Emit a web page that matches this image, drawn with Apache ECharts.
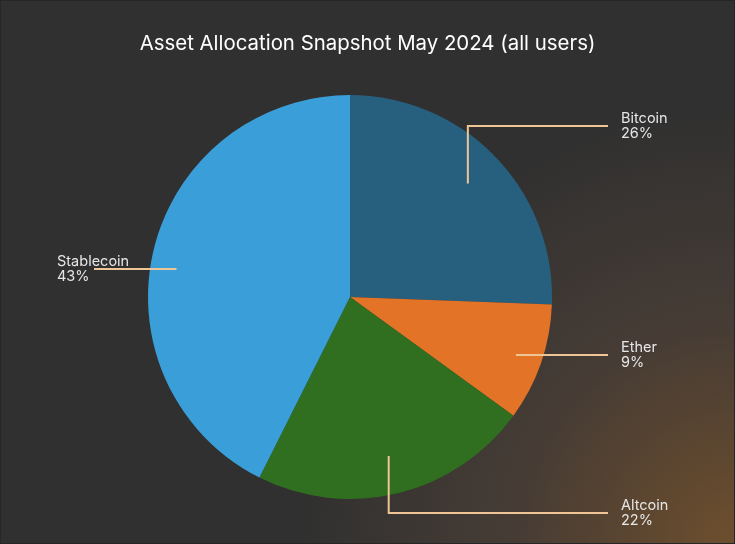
<!DOCTYPE html>
<html>
<head>
<meta charset="utf-8">
<title>Asset Allocation Snapshot May 2024</title>
<script src="https://cdn.jsdelivr.net/npm/echarts@6/dist/echarts.min.js"></script>
<style>
  html, body { margin: 0; padding: 0; background: #1f1f1f; }
  #chart { width: 733px; height: 542px; border: 1px solid #262626; }
</style>
</head>
<body>
<div id="chart"></div>
<script>
const categories = ['Bitcoin', 'Ether', 'Altcoin', 'Stablecoin'];
const shares = [25.6, 9.4, 22.4, 42.6];
const colors = ['#27607f', '#e37427', '#2f6f1f', '#3a9fd8'];

// label placement: where the text sits and how the leader line bends
const CX = 349, CY = 296, R = 202;
const labelSpots = [
  { x: 620, y: 125, end: 607, bend: 'vertical' },
  { x: 620, y: 354, end: 607, bend: 'horizontal' },
  { x: 620, y: 512, end: 607, bend: 'vertical' },
  { x: 56, y: 268, end: 93, bend: 'horizontal' }
];

const total = shares.reduce((a, b) => a + b, 0);
const midAngles = [];
let acc = 0;
shares.forEach((v) => {
  midAngles.push(((acc + v / 2) / total) * Math.PI * 2); // clockwise from top
  acc += v;
});

const pieBase = {
  type: 'pie',
  center: [CX, CY],
  radius: R,
  startAngle: 90,
  clockwise: true,
  silent: true,
  percentPrecision: 0
};

const chart = echarts.init(document.getElementById('chart'));

chart.setOption({
  backgroundColor: {
    type: 'radial',
    x: 733, y: 542, r: 440,
    global: true,
    colorStops: [
      { offset: 0, color: '#6d4f2d' },
      { offset: 0.22, color: '#5c4630' },
      { offset: 0.5, color: '#463c35' },
      { offset: 1, color: '#303030' }
    ]
  },
  textStyle: { fontFamily: 'Inter' },
  title: {
    text: 'Asset Allocation Snapshot May 2024 (all users)',
    left: 'center',
    top: 28,
    textStyle: { color: '#ffffff', fontSize: 20.4, fontWeight: 'normal', fontFamily: 'Inter' }
  },
  series: [
    // the slices
    {
      ...pieBase,
      z: 2,
      data: categories.map((name, i) => ({
        name,
        value: shares[i],
        itemStyle: { color: colors[i] }
      })),
      label: { show: false },
      labelLine: { show: false }
    },
    // same slices, transparent, only to carry labels and leader lines above the pie
    {
      ...pieBase,
      z: 5,
      data: categories.map((name, i) => ({ name, value: shares[i] })),
      itemStyle: { color: 'rgba(0,0,0,0)' },
      label: {
        show: true,
        formatter: '{b}\n{d}%',
        color: '#e6e6e6',
        fontSize: 14.5,
        lineHeight: 15,
        fontFamily: 'Inter'
      },
      labelLine: {
        show: true,
        showAbove: true,
        lineStyle: { color: '#efc596', width: 2 }
      },
      labelLayout: function (params) {
        const i = params.dataIndex;
        const spot = labelSpots[i];
        const a = midAngles[i];
        let start;
        if (spot.bend === 'vertical') {
          const k = 0.81 * R;
          start = [CX + k * Math.sin(a), CY - k * Math.cos(a)];
        } else {
          const k = 0.87 * R;
          const dy = spot.y - CY;
          const dx = Math.sqrt(Math.max(k * k - dy * dy, 0));
          start = [CX + (Math.sin(a) >= 0 ? dx : -dx), spot.y];
        }
        return {
          x: spot.x,
          y: spot.y,
          align: 'left',
          verticalAlign: 'middle',
          labelLinePoints: [start, [start[0], spot.y], [spot.end, spot.y]]
        };
      }
    }
  ]
});
</script>
</body>
</html>
